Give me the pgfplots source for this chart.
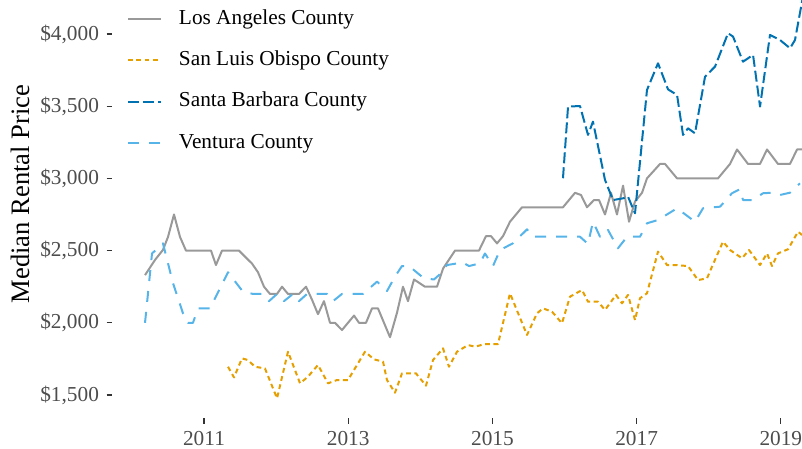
\documentclass[border=0pt]{standalone}
\usepackage{fontspec}
\setmainfont{Liberation Serif}
\usepackage{pgfplots}
\pgfplotsset{compat=1.18}
\definecolor{cLA}{HTML}{999999}
\definecolor{cSLO}{HTML}{E69F00}
\definecolor{cSB}{HTML}{0072B2}
\definecolor{cVE}{HTML}{56B4E9}
\definecolor{tickgray}{HTML}{4D4D4D}
\definecolor{tickmark}{HTML}{333333}
\begin{document}
\begin{tikzpicture}
\begin{axis}[
  at={(0,0)}, anchor=south west,
  scale only axis, width=345bp, height=209bp,
  xmin=2009.724, xmax=2019.294, ymin=1341, ymax=4235,
  axis line style={draw=none},
  xtick={2011,2013,2015,2017,2019},
  xticklabels={2011,2013,2015,2017,2019},
  ytick={1500,2000,2500,3000,3500,4000},
  yticklabels={{\$1,500},{\$2,000},{\$2,500},{\$3,000},{\$3,500},{\$4,000}},
  tick align=outside, xtick pos=bottom, ytick pos=left,
  major tick length=2.75bp,
  tick style={color=tickmark, line width=0.6bp},
  ticklabel style={font=\fontsize{10.65bp}{12bp}\selectfont, text=tickgray},
  xticklabel style={anchor=north, inner sep=0pt, yshift=-3.9bp},
  yticklabel style={anchor=east, inner sep=0pt, xshift=-3.6bp},
  ylabel={Median Rental Price},
  every axis y label/.style={at={(axis description cs:-0.1333,0.536)}, rotate=90, anchor=center, font=\fontsize{13.3bp}{15bp}\selectfont},
  legend image code/.code={\draw[#1] (0bp,0bp) -- (16.5bp,0bp);},
  legend cell align=left,
  legend style={at={(axis description cs:0,1)}, anchor=north west, xshift=7.2bp, yshift=-4.4bp,
    draw=none, fill=none, inner sep=0pt, row sep=10.65bp, column sep=8.6bp,
    nodes={inner sep=0pt, text height=7.5bp, text depth=2.5bp},
    font=\fontsize{10.65bp}{12bp}\selectfont},
  every axis plot/.append style={line width=1.0bp, line join=round, no markers},
]
% Los Angeles County
\addplot[cLA] coordinates {
(2010.182,2330) (2010.320,2435) (2010.431,2505) (2010.501,2595) (2010.584,2750)
(2010.667,2595) (2010.750,2500) (2010.903,2500) (2011.097,2500) (2011.166,2400)
(2011.250,2500) (2011.485,2500) (2011.666,2410) (2011.749,2350) (2011.832,2250)
(2011.915,2200) (2012.013,2200) (2012.082,2250) (2012.165,2200) (2012.318,2200)
(2012.415,2250) (2012.498,2160) (2012.581,2060) (2012.664,2150) (2012.748,2000)
(2012.817,2000) (2012.914,1950) (2012.997,2000) (2013.081,2050) (2013.150,2000)
(2013.247,2000) (2013.330,2100) (2013.413,2100) (2013.580,1900) (2013.677,2070)
(2013.760,2250) (2013.829,2150) (2013.913,2300) (2014.065,2250) (2014.232,2250)
(2014.315,2375) (2014.481,2500) (2014.814,2500) (2014.911,2600) (2014.981,2600)
(2015.064,2550) (2015.147,2600) (2015.244,2700) (2015.411,2800) (2015.868,2800)
(2015.979,2800) (2016.146,2900) (2016.229,2885) (2016.312,2800) (2016.409,2850)
(2016.479,2850) (2016.562,2750) (2016.645,2900) (2016.728,2750) (2016.812,2950)
(2016.895,2700) (2016.978,2840) (2017.075,2900) (2017.144,3000) (2017.325,3100)
(2017.394,3100) (2017.561,3000) (2018.129,3000) (2018.296,3100) (2018.393,3200)
(2018.545,3100) (2018.712,3100) (2018.809,3200) (2018.961,3100) (2019.128,3100)
(2019.225,3200) (2019.294,3200)
};
\addlegendentry{Los Angeles County}
% San Luis Obispo County
\addplot[cSLO, dash pattern=on 2.4bp off 1.8bp] coordinates {
(2011.333,1696) (2011.416,1622) (2011.527,1754) (2011.610,1742) (2011.707,1696)
(2011.846,1684) (2012.013,1477) (2012.165,1800) (2012.332,1581) (2012.442,1627)
(2012.581,1708) (2012.720,1581) (2012.845,1604) (2012.997,1604) (2013.233,1800)
(2013.358,1747) (2013.483,1731) (2013.538,1604) (2013.649,1516) (2013.746,1650)
(2013.940,1650) (2014.079,1565) (2014.176,1742) (2014.315,1823) (2014.398,1696)
(2014.509,1800) (2014.662,1846) (2014.759,1835) (2014.897,1853) (2015.078,1853)
(2015.244,2204) (2015.480,1916) (2015.619,2066) (2015.702,2100) (2015.827,2077)
(2015.965,1997) (2016.076,2181) (2016.243,2227) (2016.326,2146) (2016.465,2146)
(2016.562,2089) (2016.714,2193) (2016.798,2135) (2016.881,2193) (2016.978,2019)
(2017.047,2170) (2017.144,2204) (2017.297,2493) (2017.422,2400) (2017.533,2400)
(2017.713,2393) (2017.852,2296) (2017.977,2308) (2018.046,2389) (2018.198,2562)
(2018.296,2504) (2018.462,2447) (2018.559,2504) (2018.712,2400) (2018.809,2481)
(2018.878,2393) (2018.961,2481) (2019.100,2509) (2019.239,2631) (2019.294,2608)
};
\addlegendentry{San Luis Obispo County}
% Santa Barbara County
\addplot[cSB, dash pattern=on 5.5bp off 2bp] coordinates {
(2015.979,3001) (2016.049,3497) (2016.215,3501) (2016.326,3301) (2016.395,3393)
(2016.562,2989) (2016.673,2850) (2016.812,2862) (2016.881,2873) (2016.978,2758)
(2017.144,3612) (2017.297,3797) (2017.436,3616) (2017.561,3578) (2017.644,3301)
(2017.713,3347) (2017.810,3312) (2017.949,3704) (2018.088,3774) (2018.268,4005)
(2018.337,3982) (2018.476,3808) (2018.615,3855) (2018.712,3497) (2018.850,3993)
(2018.989,3958) (2019.128,3901) (2019.197,3958) (2019.308,4260)
};
\addlegendentry{Santa Barbara County}
% Ventura County
\addplot[cVE, dash pattern=on 5.5bp off 5bp] coordinates {
(2010.182,2000) (2010.279,2480) (2010.431,2550) (2010.570,2275) (2010.709,2065)
(2010.778,2000) (2010.847,2000) (2010.917,2100) (2011.083,2100) (2011.333,2350)
(2011.541,2215) (2011.680,2200) (2011.818,2200) (2011.902,2150) (2012.013,2200)
(2012.110,2150) (2012.234,2200) (2012.318,2150) (2012.429,2200) (2012.706,2200)
(2012.789,2150) (2012.914,2200) (2013.205,2200) (2013.400,2285) (2013.538,2220)
(2013.649,2320) (2013.746,2393) (2013.843,2393) (2014.051,2308) (2014.190,2300)
(2014.287,2343) (2014.370,2400) (2014.495,2410) (2014.579,2420) (2014.676,2393)
(2014.828,2412) (2014.897,2480) (2015.008,2393) (2015.106,2504) (2015.286,2551)
(2015.480,2647) (2015.563,2596) (2016.215,2596) (2016.326,2546) (2016.395,2700)
(2016.493,2596) (2016.603,2643) (2016.742,2516) (2016.867,2596) (2017.047,2596)
(2017.144,2689) (2017.297,2712) (2017.561,2793) (2017.810,2700) (2017.921,2793)
(2018.157,2804) (2018.323,2897) (2018.434,2925) (2018.476,2850) (2018.615,2850)
(2018.753,2897) (2018.892,2901) (2018.989,2885) (2019.128,2901) (2019.266,2966)
};
\addlegendentry{Ventura County}
\end{axis}
\pgfresetboundingbox
\useasboundingbox (-56bp,-15.5bp) rectangle (345bp,209bp);
\end{tikzpicture}
\end{document}
